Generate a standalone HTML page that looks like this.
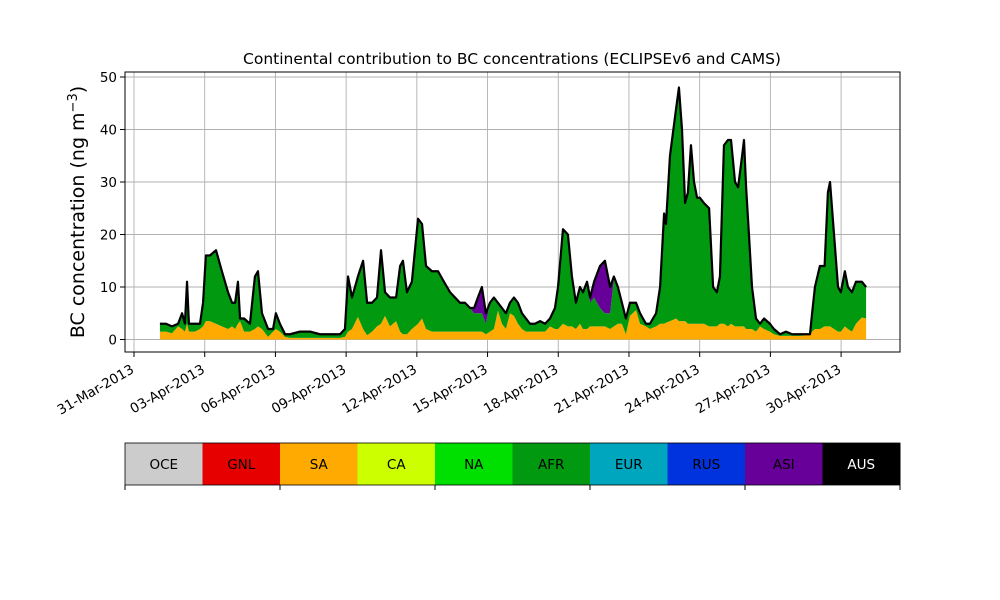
<!DOCTYPE html>
<html><head><meta charset="utf-8"><style>
body{margin:0;background:#fff;}
svg{display:block;font-family:"DejaVu Sans","Liberation Sans",sans-serif;}
</style></head><body>
<svg id="chart" width="1000" height="600" viewBox="0 0 1000 600"></svg>
<script>
const days=[1.10,1.36,1.61,1.87,2.04,2.16,2.25,2.33,2.59,2.80,2.93,3.05,3.22,3.48,3.73,3.99,4.16,4.29,4.41,4.50,4.67,4.92,5.13,5.26,5.43,5.69,5.90,6.02,6.19,6.41,6.62,7.04,7.47,7.89,8.32,8.74,8.95,9.08,9.25,9.50,9.72,9.89,10.10,10.31,10.48,10.65,10.86,11.12,11.29,11.41,11.58,11.79,12.05,12.22,12.39,12.64,12.90,13.15,13.41,13.62,13.83,14.04,14.26,14.43,14.59,14.76,14.93,15.10,15.27,15.44,15.61,15.78,15.95,16.12,16.29,16.46,16.63,16.80,17.01,17.23,17.44,17.65,17.86,17.99,18.20,18.41,18.58,18.75,18.92,19.05,19.22,19.35,19.52,19.77,19.98,20.20,20.36,20.53,20.70,20.87,21.04,21.30,21.47,21.72,21.89,22.15,22.32,22.49,22.57,22.74,23.00,23.12,23.25,23.38,23.50,23.63,23.76,23.89,24.01,24.18,24.40,24.57,24.73,24.86,25.03,25.20,25.33,25.50,25.63,25.80,25.88,25.97,26.09,26.22,26.39,26.56,26.73,26.98,27.15,27.41,27.66,27.92,28.26,28.51,28.68,28.77,28.89,29.10,29.30,29.36,29.44,29.53,29.70,29.87,29.99,30.16,30.29,30.46,30.63,30.88,31.06];
const total=[3,3,2.5,3,5,3,11,3,3,3,7,16,16,17,13,9,7,7,11,4,4,3,12,13,5,2,2,5,3,1,1,1.5,1.5,1,1,1,2,12,8,12,15,7,7,8,17,9,8,8,14,15,9,11,23,22,14,13,13,11,9,8,7,7,6,6,8,10,5,7,8,7,6,5,7,8,7,5,4,3,3,3.5,3,4,6,10,21,20,12,7,10,9,11,8,11,14,15,10,12,10,7,4,7,7,5,3,3,5,10,24,22,35,44,48,40,26,28,37,30,27,27,26,25,10,9,12,37,38,38,30,29,35,38,29,20,10,4,3,4,3,2,1,1.5,1,1,1,1,5,10,14,14,20,28,30,20,10,9,13,10,9,11,11,10];
const sa=[1.5,1.5,1.2,2.5,2,1.5,3,1.5,1.5,2,2.5,3.5,3.5,3,2.5,2,2.5,2,3,3.5,1.5,1.5,2,2.5,2,0.5,1.5,2,1.5,0.5,0.3,0.3,0.3,0.3,0.3,0.3,0.5,1.5,2,4.3,2,0.8,1.5,2.5,3,4.5,2.5,3.5,1.5,1,1,2,3,4,2,1.5,1.5,1.5,1.5,1.5,1.5,1.5,1.5,1.5,1.5,1.5,1,1.5,2,5.5,3,2,5,4.5,3,2,1.5,1.5,1.5,1.5,1.5,2.5,2,2,3,2.5,2.5,2,3,2,2,2.5,2.5,2.5,2.5,2,2.5,3,3,1,4.5,5.6,3,2.5,2,2.5,3,3,3.2,3.5,4,3.5,3.5,3.5,3,3,3,3,3,3,2.5,2.5,2.5,3,3,2.5,3,2.5,2.5,2.5,2.5,2,2,2,1.5,2.5,2,1.5,1,0.7,0.7,0.7,0.7,0.8,1,1.5,2,2,2.5,2.5,2.5,2.5,2,1.5,1.5,2.5,2,1.5,3,4.2,4];
const asi=[0,0,0,0,0,0,0,0,0,0,0,0,0,0,0,0,0,0,0,0,0,0,0,0,0,0,0,0,0,0,0,0,0,0,0,0,0,0,0,0,0,0,0,0,0,0,0,0,0,0,0,0,0,0,0,0,0,0,0,0,0,0,0,1,3,5,2,0,0,0,0,0,0,0,0,0,0,0,0,0,0,0,0,0,0,0,0,0,0,0,0,1,3,8,10,5,0.5,0,0,0,0,0,0,0,0,0,0,0,0,0,0,0,0,0,0,0,0,0,0,0,0,0,0,0,0,0,0,0,0.5,0,0,0,0,0,0,0,0,0,0,0,0,0,0,0,0,0,0,0,0,0,0,0,0,0,0,0,0,0,0,0,0,0,0,0];
const yTicks=[0,10,20,30,40,50];
const xTickDays=[0,3,6,9,12,15,18,21,24,27,30];
const xTickLabels=["31-Mar-2013","03-Apr-2013","06-Apr-2013","09-Apr-2013","12-Apr-2013","15-Apr-2013","18-Apr-2013","21-Apr-2013","24-Apr-2013","27-Apr-2013","30-Apr-2013"];
const regions=["OCE","GNL","SA","CA","NA","AFR","EUR","RUS","ASI","AUS"];
const regionColors=["#cccccc","#e60000","#ffaa00","#ccff00","#00e000","#009910","#00a5be","#0033dd","#660099","#000000"];

const NS="http://www.w3.org/2000/svg";
const svg=document.getElementById('chart');
const L=125,R=900,T=72,B=352;
const X=d=>134+d*23.57;
const Y=v=>339.5-v*5.25;
function mk(tag,attrs,parent){const e=document.createElementNS(NS,tag);for(const k in attrs)e.setAttribute(k,attrs[k]);(parent||svg).appendChild(e);return e;}

yTicks.forEach(v=>{const g=mk('line',{x1:L,x2:R,y1:Y(v),y2:Y(v),stroke:'#b0b0b0','stroke-width':0.9});

});
xTickDays.forEach(d=>{const g=mk('line',{x1:X(d),x2:X(d),y1:T,y2:B,stroke:'#b0b0b0','stroke-width':0.9});

});

function band(lo,hi,color,name){
  let p='M'+X(days[0])+','+Y(hi[0]);
  for(let i=1;i<days.length;i++)p+='L'+X(days[i])+','+Y(hi[i]);
  for(let i=days.length-1;i>=0;i--)p+='L'+X(days[i])+','+Y(lo[i]);
  const e=mk('path',{d:p+'Z',fill:color});
  
  
}
const zero=days.map(()=>0);
const afrTop=total.map((t,i)=>t-asi[i]);
band(zero,sa,'#ffaa00','area-sa');
band(sa,afrTop,'#009910','area-afr');
band(afrTop,total,'#660099','area-asi');
let lp='M'+X(days[0])+','+Y(total[0]);
for(let i=1;i<days.length;i++)lp+='L'+X(days[i])+','+Y(total[i]);
const tl=mk('path',{d:lp,fill:'none',stroke:'#000','stroke-width':2.2,'stroke-linejoin':'round'});



const frame=mk('rect',{x:L,y:T,width:R-L,height:B-T,fill:'none',stroke:'#000','stroke-width':1});



yTicks.forEach(v=>{
  const t=mk('line',{x1:L-5,x2:L,y1:Y(v),y2:Y(v),stroke:'#000'});
  
  
  const l=mk('text',{x:L-8,y:Y(v)+5,'text-anchor':'end','font-size':13.5});
  l.textContent=v;
  
  
});
xTickDays.forEach((d,i)=>{
  const t=mk('line',{x1:X(d),x2:X(d),y1:B,y2:B+5,stroke:'#000'});
  
  
  const ax=X(d)+1, ay=B+20;
  const l=mk('text',{x:ax,y:ay,'text-anchor':'end','font-size':13.5,transform:`rotate(-30 ${ax} ${ay})`});
  l.textContent=xTickLabels[i];
  
  
});
const title=mk('text',{x:512,y:64,'text-anchor':'middle','font-size':15.5});
title.textContent='Continental contribution to BC concentrations (ECLIPSEv6 and CAMS)';


const yt=mk('text',{x:0,y:0,'text-anchor':'middle','font-size':19,transform:'translate(84,212) rotate(-90)'});
yt.innerHTML='BC concentration (ng m<tspan dy="-7" font-size="13">−3</tspan><tspan dy="7">)</tspan>';



const bw=(R-L)/regions.length;
regions.forEach((r,i)=>{
  const b=mk('rect',{x:L+i*bw,y:443,width:bw+0.5,height:42,fill:regionColors[i]});
  
  
  const t=mk('text',{x:L+i*bw+bw/2,y:469,'text-anchor':'middle','font-size':13.5,fill:r==='AUS'?'#fff':'#000'});
  t.textContent=r;
  
  
});
const lf=mk('rect',{x:L,y:443,width:R-L,height:42,fill:'none',stroke:'#000','stroke-width':0.8});


for(let i=0;i<=regions.length;i+=2){
  const t=mk('line',{x1:L+i*bw,x2:L+i*bw,y1:485,y2:490,stroke:'#000'});
  
  
}
</script>
</body></html>
